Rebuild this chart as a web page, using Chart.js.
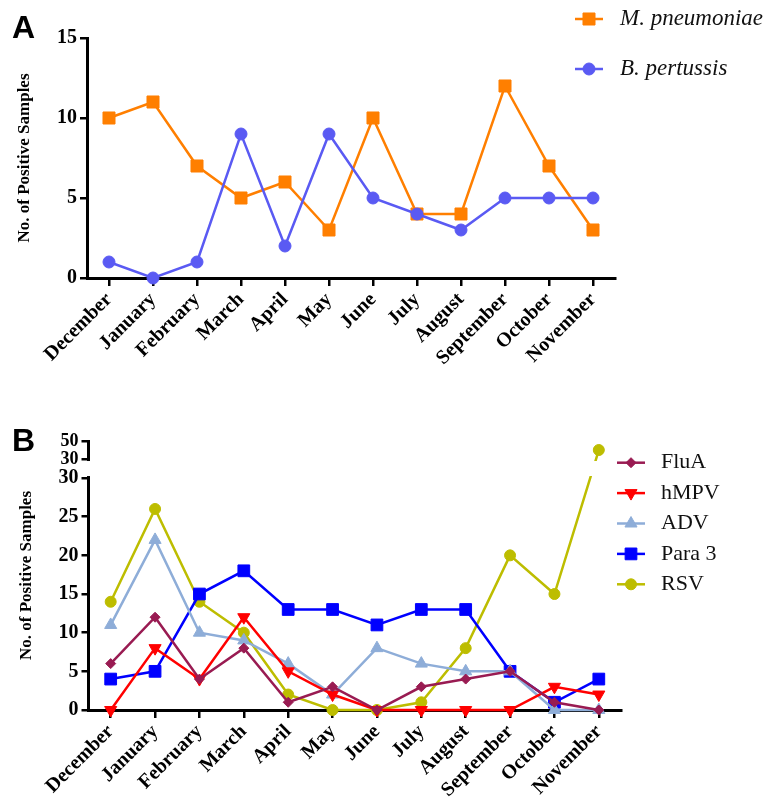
<!DOCTYPE html>
<html>
<head>
<meta charset="utf-8">
<script src="https://cdn.jsdelivr.net/npm/chart.js@4.4.0/dist/chart.umd.min.js"></script>
<style>
  body { margin: 0; background: #fff; }
  #page { position: relative; width: 773px; height: 802px; overflow: hidden; }
  .panel { position: absolute; left: 0; width: 773px; }
  .letter { position: absolute; left: 12px; font: bold 32px "Liberation Sans", Arial, sans-serif; line-height: 1; }
</style>
</head>
<body>
<div id="page">
  <div class="panel" style="top:0;height:400px"><canvas id="chartA"></canvas></div>
  <div class="panel" style="top:400px;height:402px"><canvas id="chartB"></canvas></div>
  <div class="letter" style="top:11px">A</div>
  <div class="letter" style="top:424px">B</div>
</div>
<script>
// months, shared by both panels
const months = ["December", "January", "February", "March", "April", "May",
  "June", "July", "August", "September", "October", "November"];

// panel A: bacteria
const mPneumoniae = [10, 11, 7, 5, 6, 3, 10, 4, 4, 12, 7, 3];
const bPertussis = [1, 0, 1, 9, 2, 9, 5, 4, 3, 5, 5, 5];
const ticksA = [0, 5, 10, 15];

// panel B: viruses
const fluA = [6, 12, 4, 8, 1, 3, 0, 3, 4, 5, 1, 0];
const hMPV = [0, 8, 4, 12, 5, 2, 0, 0, 0, 0, 3, 2];
const adv = [11, 22, 10, 9, 6, 2, 8, 6, 5, 5, 0, 0];
const para3 = [4, 5, 15, 18, 13, 13, 11, 13, 13, 5, 1, 4];
const rsv = [14, 26, 14, 10, 2, 0, 0, 1, 8, 20, 15, 40];
const ticksB = [0, 5, 10, 15, 20, 25, 30];
const ticksBUpper = [30, 50];

// broken y axis of panel B: 0-30 full size, then a short 30-50 piece on top
const BREAK_AT = 30, UPPER_MAX = 50;
const GAP = 2.46, UPPER_SPAN = 2.33; // in axis units
const toUpper = v => BREAK_AT + GAP + (v - BREAK_AT) * UPPER_SPAN / (UPPER_MAX - BREAK_AT);
const toAxis = v => v > BREAK_AT ? toUpper(v) : v;
const fromAxis = a => a > BREAK_AT + 0.01 ? BREAK_AT + (a - BREAK_AT - GAP) * (UPPER_MAX - BREAK_AT) / UPPER_SPAN : a;

class BrokenScale extends Chart.LinearScale {
  parse(raw, index) {
    const v = super.parse(raw, index);
    return v == null ? v : toAxis(v);
  }
}
BrokenScale.id = 'broken';
BrokenScale.defaults = Chart.LinearScale.defaults;
Chart.register(BrokenScale);

const serif = "'Liberation Serif', 'Times New Roman', serif";
Chart.defaults.font.family = serif;
Chart.defaults.color = '#000';
Chart.defaults.animation = false;

// legend with a short line + marker, placed freely
const sideLegend = {
  id: 'sideLegend',
  afterDraw(chart, args, opts) {
    const ctx = chart.ctx;
    ctx.save();
    chart.data.datasets.forEach((ds, i) => {
      const y = opts.top + i * opts.rowHeight;
      ctx.strokeStyle = ds.borderColor;
      ctx.lineWidth = ds.borderWidth;
      ctx.beginPath();
      ctx.moveTo(opts.left, y);
      ctx.lineTo(opts.left + opts.lineLength, y);
      ctx.stroke();
      ctx.fillStyle = ds.pointBackgroundColor;
      ctx.strokeStyle = ds.borderColor;
      ctx.lineWidth = 1;
      Chart.helpers.drawPoint(ctx, {
        pointStyle: ds.pointStyle, radius: ds.pointRadius,
        rotation: ds.pointRotation || 0, borderWidth: 1
      }, opts.left + opts.lineLength / 2, y);
      ctx.fillStyle = '#111';
      ctx.font = Chart.helpers.toFont(opts.font).string;
      ctx.textBaseline = 'middle';
      ctx.fillText(ds.label, opts.left + opts.lineLength + opts.textGap, y);
    });
    ctx.restore();
  }
};

// white band over the break
const axisBreak = {
  id: 'axisBreak',
  afterDatasetsDraw(chart) {
    const y = chart.scales.y, area = chart.chartArea;
    const top = y.getPixelForValue(toUpper(BREAK_AT)) + 2;
    const bottom = y.getPixelForValue(BREAK_AT) - 2;
    const ctx = chart.ctx;
    ctx.save();
    ctx.fillStyle = '#fff';
    ctx.fillRect(area.left - 6, top, area.right - area.left + 6, bottom - top);
    ctx.restore();
  }
};

function series(label, data, color, style, radius, extra) {
  return Object.assign({
    label, data,
    borderColor: color, backgroundColor: color,
    pointBackgroundColor: color, pointBorderColor: color,
    pointStyle: style, pointRadius: radius, pointBorderWidth: 1,
    borderWidth: 2.5, tension: 0, clip: false
  }, extra || {});
}

function xAxis(height) {
  return {
    type: 'category', offset: true,
    border: { color: '#000', width: 3 },
    grid: { drawOnChartArea: false, color: '#000', lineWidth: 2.5, tickLength: 8 },
    ticks: { autoSkip: false, minRotation: 45, maxRotation: 45, padding: 2,
      font: { size: 20, weight: 'bold' } },
    afterFit: s => { s.height = height; }
  };
}

function yTitle(pad) {
  return { display: true, text: 'No. of Positive Samples', padding: { top: pad },
    font: { size: 17, weight: 'bold' } };
}

// panel A
new Chart(document.getElementById('chartA'), {
  type: 'line',
  data: {
    labels: months,
    datasets: [
      series('M. pneumoniae', mPneumoniae, '#FF7F00', 'rect', 8.5, { order: 1 }),
      series('B. pertussis', bPertussis, '#5A5AF3', 'circle', 6, { order: 0 })
    ]
  },
  options: {
    responsive: true,
    maintainAspectRatio: false,
    layout: { padding: { top: 38, right: 158, bottom: 0, left: 0 } },
    scales: {
      x: xAxis(122),
      y: {
        min: 0, max: 15,
        border: { color: '#000', width: 3 },
        grid: { drawOnChartArea: false, color: '#000', lineWidth: 2.5, tickLength: 7 },
        ticks: { font: { size: 20, weight: 'bold' } },
        afterBuildTicks: s => { s.ticks = ticksA.map(v => ({ value: v })); },
        title: yTitle(14),
        afterFit: s => { s.width = 87; }
      }
    },
    plugins: {
      legend: { display: false },
      tooltip: { enabled: false },
      sideLegend: { left: 575, top: 19, rowHeight: 50, lineLength: 28, textGap: 17,
        font: { family: serif, size: 23, style: 'italic' } }
    }
  },
  plugins: [sideLegend]
});

// panel B
new Chart(document.getElementById('chartB'), {
  type: 'line',
  data: {
    labels: months,
    datasets: [
      series('FluA', fluA, '#991B52', 'rectRot', 5),
      series('hMPV', hMPV, '#FF0000', 'triangle', 7, { pointRotation: 180 }),
      series('ADV', adv, '#8EADD8', 'triangle', 7),
      series('Para 3', para3, '#0000FF', 'rect', 8.3),
      series('RSV', rsv, '#BDBD00', 'circle', 5.5)
    ]
  },
  options: {
    responsive: true,
    maintainAspectRatio: false,
    layout: { padding: { top: 41, right: 152, bottom: 0, left: 0 } },
    scales: {
      x: xAxis(92),
      y: {
        type: 'broken',
        min: 0, max: toUpper(UPPER_MAX),
        border: { color: '#000', width: 3 },
        grid: { drawOnChartArea: false, color: '#000', lineWidth: 2.5, tickLength: 7 },
        ticks: {
          autoSkip: false,
          font: c => ({ size: c.tick && c.tick.value > BREAK_AT + 0.01 ? 18 : 20, weight: 'bold' }),
          callback: a => Math.round(fromAxis(a))
        },
        afterBuildTicks: s => {
          s.ticks = ticksB.map(v => ({ value: v })).concat(ticksBUpper.map(v => ({ value: toUpper(v) })));
        },
        title: yTitle(16),
        afterFit: s => { s.width = 88.5; }
      }
    },
    plugins: {
      legend: { display: false },
      tooltip: { enabled: false },
      sideLegend: { left: 617, top: 62.7, rowHeight: 30.4, lineLength: 28, textGap: 16,
        font: { family: serif, size: 22 } }
    }
  },
  plugins: [axisBreak, sideLegend]
});
</script>
</body>
</html>
